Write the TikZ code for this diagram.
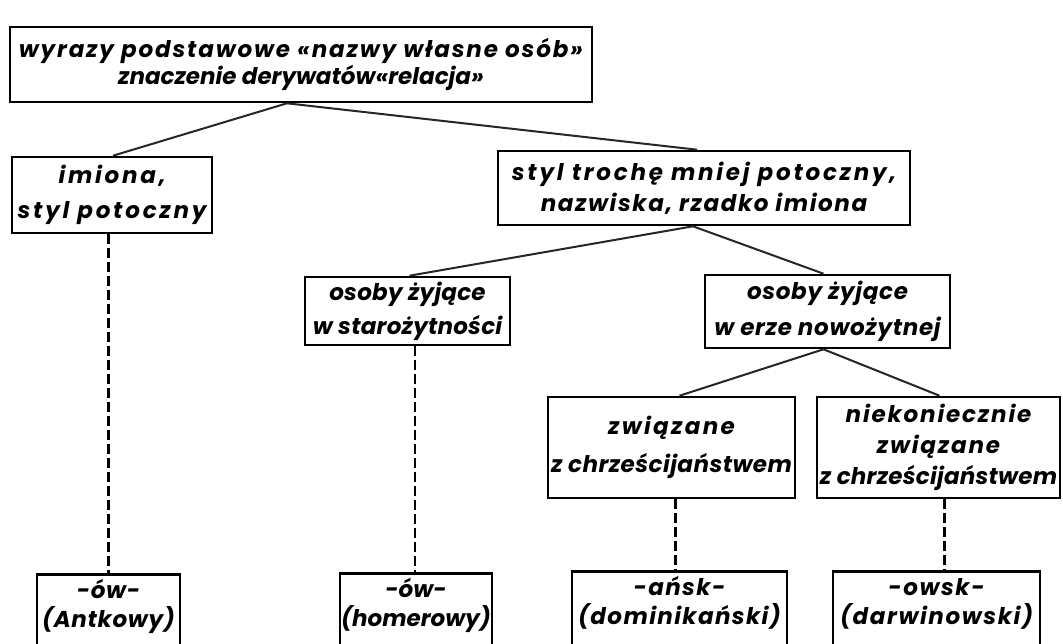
\documentclass[tikz,border=0pt]{standalone}
\usepackage{fontspec}
\newfontfamily\lett{Poppins}
\newcommand\lfnt[2]{\lett\itshape\bfseries\fontsize{23}{#2}\selectfont\addfontfeature{LetterSpace=#1}}
\newcommand\lsp[1]{\addfontfeature{LetterSpace=#1}}
\tikzset{
  box/.style={draw=black, line width=2.6, inner sep=0pt, align=center,
    font=\lfnt{0}{27}},
  conn/.style={draw=black!85, line width=2},
  dconn/.style={draw=black, line width=2.2, dash pattern=on 10pt off 4pt},
}
\begin{document}
\begin{tikzpicture}[x=1pt,y=-1pt]
\useasboundingbox (0,0) rectangle (1063,643);
\fill[white] (0,0) rectangle (1063,643);
\begin{scope}
\clip (0,0) rectangle (1063,643);
\node[box, minimum width=582, minimum height=75] (top) at (301,64.5)
  {{\lsp{8}wyrazy podstawowe «nazwy własne osób»}\\znaczenie derywatów«relacja»};
\node[box, minimum width=200, minimum height=76, font=\lfnt{12}{35}] (imi) at (112,195)
  {imiona,\\styl potoczny};
\node[box, minimum width=412, minimum height=74, font=\lfnt{0}{31}] (styl) at (704,188)
  {{\lsp{12}styl trochę mniej potoczny,}\\{\lsp{7}nazwiska, rzadko imiona}};
\node[box, minimum width=205, minimum height=68, font=\lfnt{1}{34}] (star) at (407.5,311)
  {osoby żyjące\\w starożytności};
\node[box, minimum width=245, minimum height=73, font=\lfnt{3}{36}] (nowo) at (827.5,311.5)
  {osoby żyjące\\w erze nowożytnej};
\node[box, minimum width=247, minimum height=101, font=\lfnt{2}{38}] (zwi) at (671.5,447.5)
  {{\lsp{10}związane}\\z chrześcijaństwem};
\node[box, minimum width=243, minimum height=101, font=\lfnt{1}{31}] (niek) at (938.5,447.5)
  {{\lsp{8}niekoniecznie}\\{\lsp{8}związane}\\z chrześcijaństwem};
\node[box, anchor=north, minimum width=143, font=\lfnt{3}{28}] (ow1) at (108.5,573)
  {\begin{tabular}{@{}c@{}}\rule{0pt}{24pt}-ów-\\(Antkowy)\\[40pt]\end{tabular}};
\node[box, anchor=north, minimum width=152, font=\lfnt{0}{28}] (ow2) at (416,572)
  {\begin{tabular}{@{}c@{}}\rule{0pt}{24pt}-ów-\\(homerowy)\\[40pt]\end{tabular}};
\node[box, anchor=north, minimum width=215, font=\lfnt{6}{28}] (ansk) at (679.5,570)
  {\begin{tabular}{@{}c@{}}\rule{0pt}{24pt}-ańsk-\\(dominikański)\\[40pt]\end{tabular}};
\node[box, anchor=north, minimum width=207, font=\lfnt{7}{28}] (owsk) at (936.5,570)
  {\begin{tabular}{@{}c@{}}\rule{0pt}{24pt}-owsk-\\(darwinowski)\\[40pt]\end{tabular}};
% solid connectors
\draw[conn] ([xshift=-14pt]top.south) -- ([xshift=1pt]imi.north);
\draw[conn] ([xshift=-14pt]top.south) -- ([xshift=-7pt]styl.north);
\draw[conn] ([xshift=-11pt]styl.south) -- ([xshift=2pt]star.north);
\draw[conn] ([xshift=-11pt]styl.south) -- ([xshift=-4pt]nowo.north);
\draw[conn] ([xshift=-4pt]nowo.south) -- ([xshift=8pt]zwi.north);
\draw[conn] ([xshift=-4pt]nowo.south) -- ([xshift=1pt]niek.north);
% dashed connectors
\draw[dconn] (ow1.north |- imi.south) -- (ow1.north);
\draw[dconn] ([xshift=-1pt]ow2.north |- star.south) -- ([xshift=-1pt]ow2.north);
\draw[dconn] ([xshift=-4pt]ansk.north |- zwi.south) -- ([xshift=-4pt]ansk.north);
\draw[dconn] ([xshift=8pt]owsk.north |- niek.south) -- ([xshift=8pt]owsk.north);
\end{scope}
\end{tikzpicture}
\end{document}
